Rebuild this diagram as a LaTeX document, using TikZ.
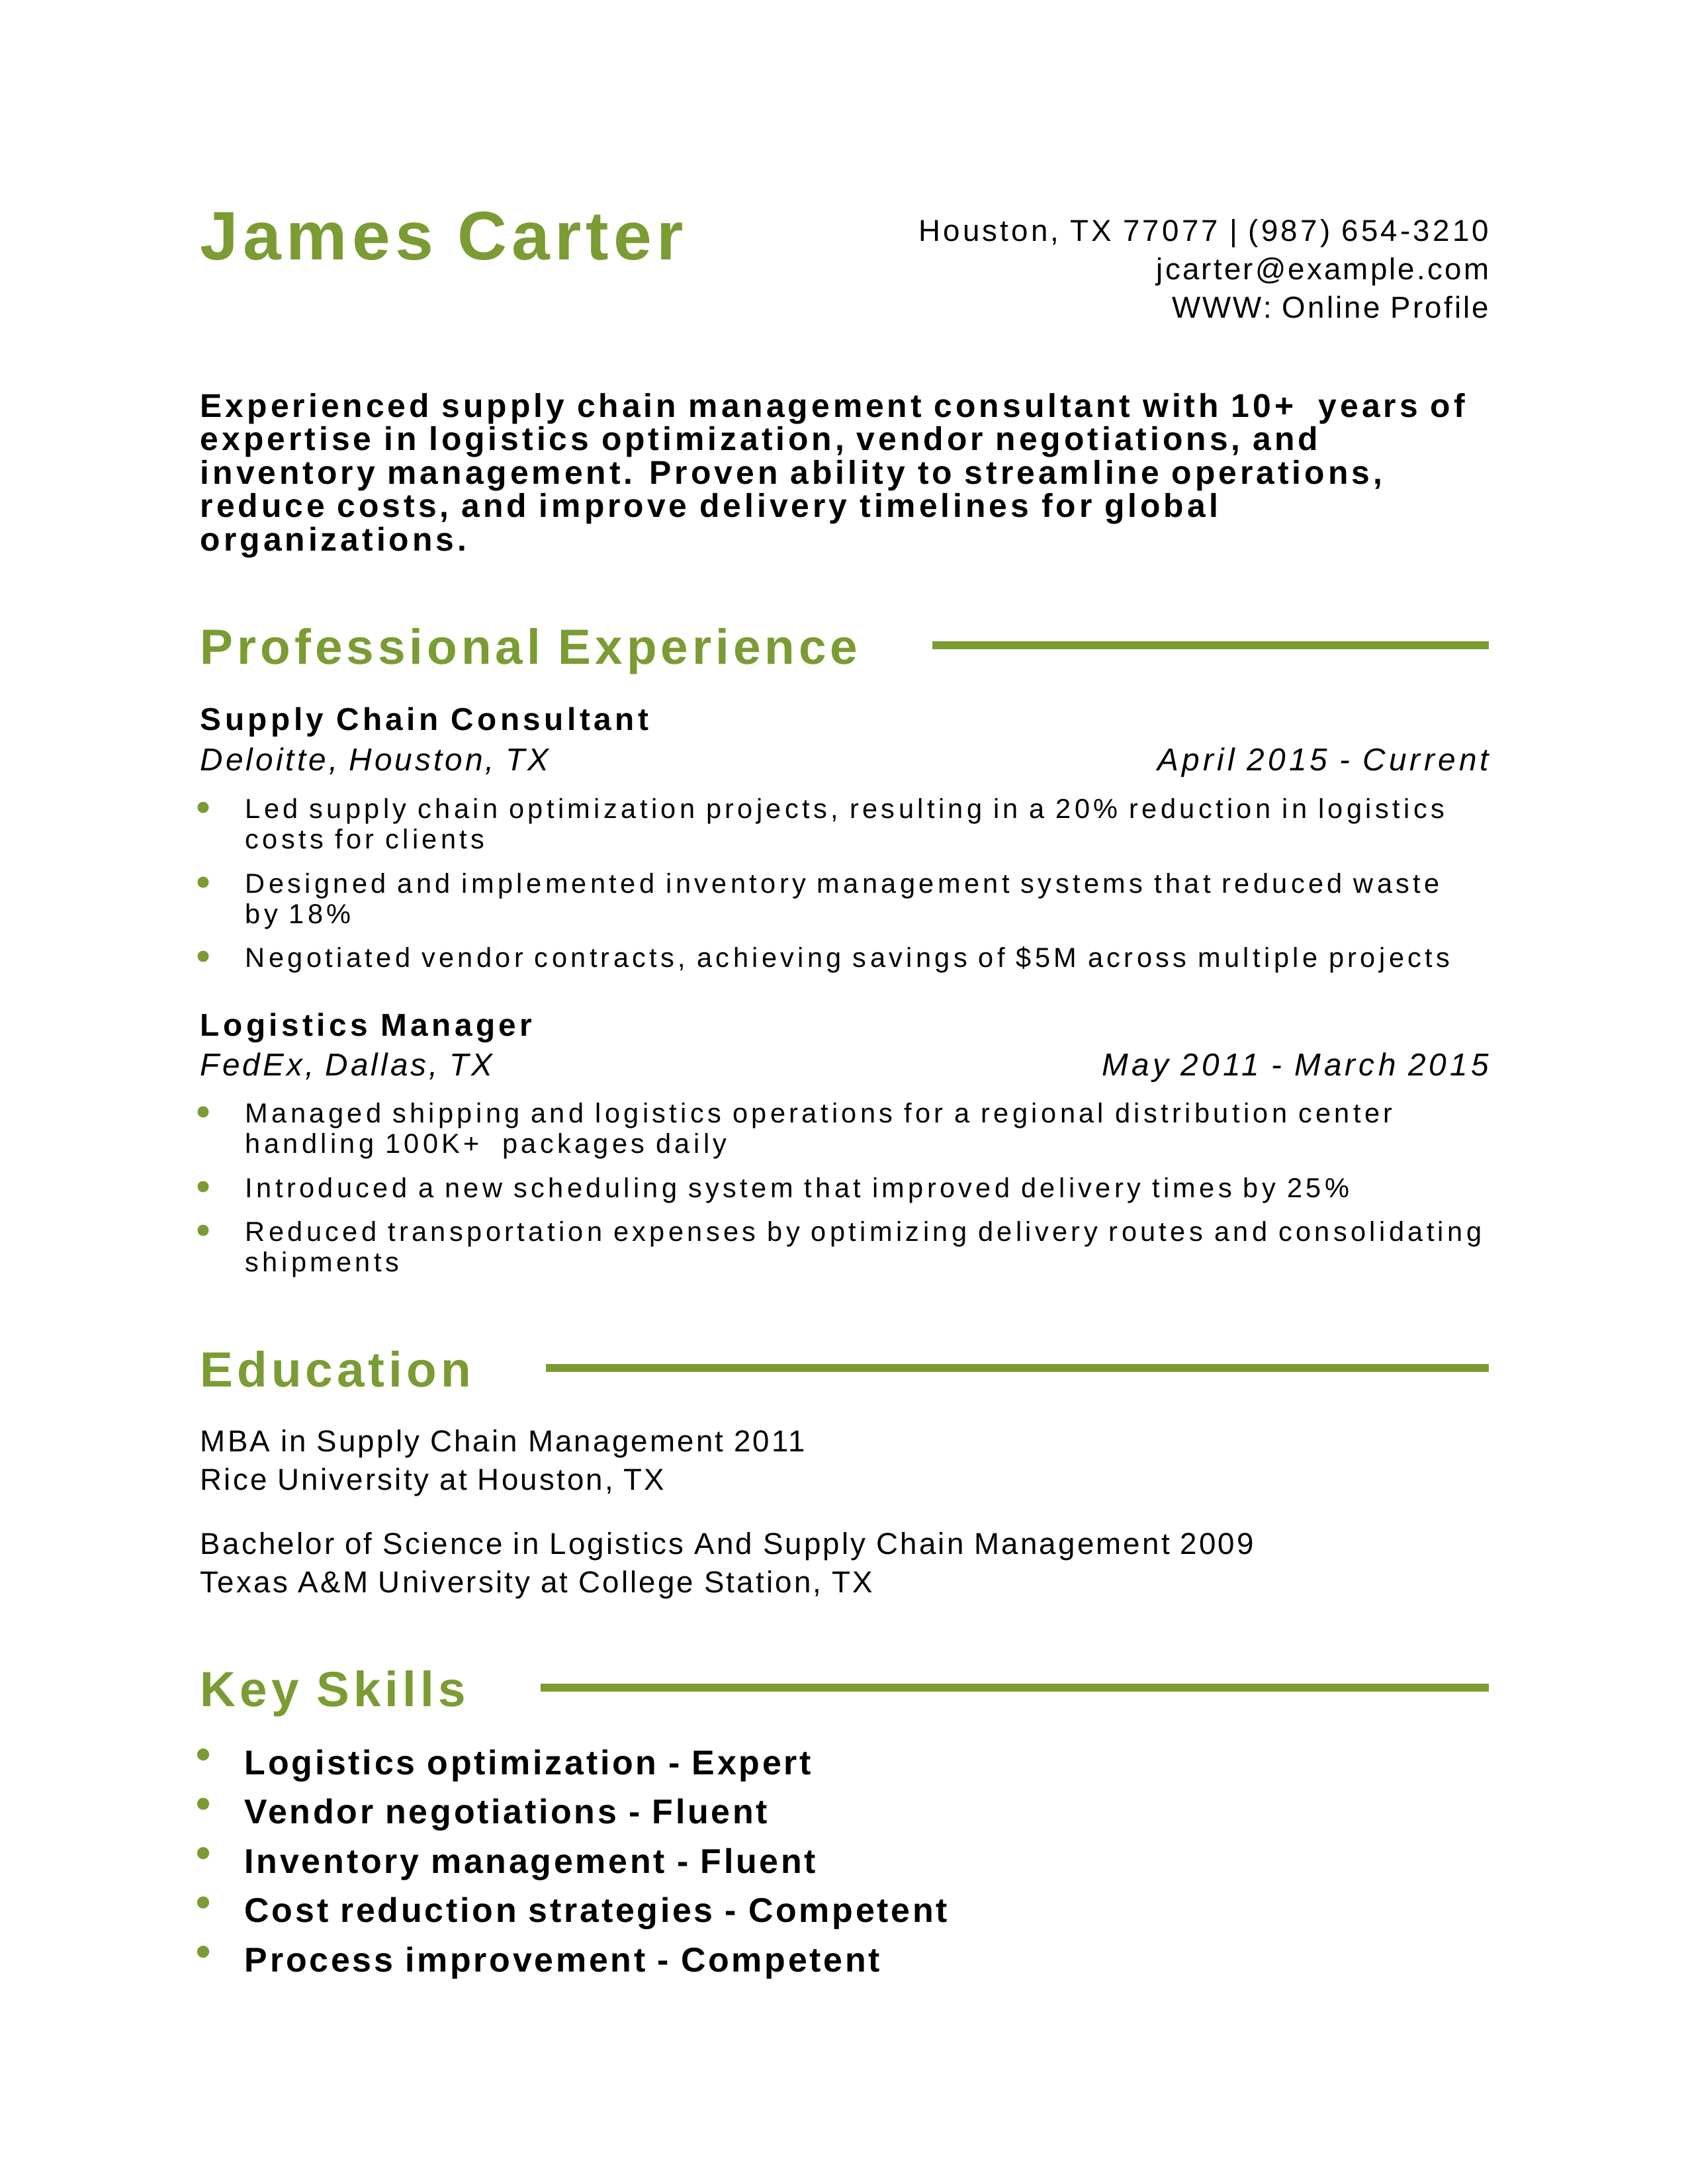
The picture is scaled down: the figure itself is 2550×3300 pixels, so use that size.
\documentclass[tikz,border=0pt]{standalone}
\usepackage{fontspec}
\setmainfont{Liberation Sans}
\newfontfamily\namefont[LetterSpace=7]{Liberation Sans}
\newfontfamily\headfont[LetterSpace=8]{Liberation Sans}
\newfontfamily\contactfont[LetterSpace=7]{Liberation Sans}
\newfontfamily\phonefont[LetterSpace=9.3]{Liberation Sans}
\newfontfamily\sumfont[LetterSpace=10]{Liberation Sans}
\newfontfamily\jobfont[LetterSpace=11.5]{Liberation Sans}
\newfontfamily\employerfont[LetterSpace=8.5]{Liberation Sans}
\newfontfamily\datefont[LetterSpace=11]{Liberation Sans}
\newfontfamily\bodyfont[LetterSpace=13]{Liberation Sans}
\newfontfamily\skillfont[LetterSpace=7.2]{Liberation Sans}
\usetikzlibrary{positioning}
\definecolor{leaf}{RGB}{122,156,51}

\begin{document}
\begin{tikzpicture}[x=0.24088pt, y=-0.24088pt,
            txt/.style={inner sep=0pt, anchor=base west},
            rtxt/.style={inner sep=0pt, anchor=base east},
            fullname/.style={txt, text=leaf, font=\namefont\bfseries\fontsize{25}{29}\selectfont},
            contact/.style={rtxt, font=\contactfont\fontsize{11}{13}\selectfont},
            summary/.style={txt, font=\sumfont\bfseries\fontsize{12}{14}\selectfont},
            sechead/.style={txt, text=leaf, font=\headfont\bfseries\fontsize{18}{22}\selectfont},
            jobtitle/.style={txt, font=\jobfont\bfseries\fontsize{11.5}{13}\selectfont},
            employer/.style={txt, font=\employerfont\itshape\fontsize{11.5}{13}\selectfont},
            dates/.style={rtxt, font=\datefont\itshape\fontsize{11.5}{13}\selectfont},
            body/.style={txt, font=\bodyfont\fontsize{10}{12}\selectfont},
            degree/.style={txt, font=\contactfont\fontsize{11}{13}\selectfont},
            skill/.style={txt, font=\skillfont\bfseries\fontsize{12.5}{15}\selectfont},
            bulletdot/.style={circle, fill=leaf, inner sep=0pt, minimum size=4.1pt},
            skilldot/.style={bulletdot, minimum size=4.4pt},
            rulebar/.style={draw=leaf, line width=2.9pt}]
            \useasboundingbox (0,0) rectangle (2550,3300);
            \coordinate (rm) at (2250,0);

            % header
            \node[fullname] (name) at (302,392) {James Carter};
            \node[contact, font=\phonefont\fontsize{11}{13}\selectfont] (addr) at (2251,364) {Houston, TX 77077 | (987) 654-3210};
            \node[contact] (mail) at (2251,422) {jcarter@example.com};
            \node[contact] (web) at (2251,480) {WWW: Online Profile};

            \foreach \line [count=\i] in {
              {Experienced supply chain management consultant with 10+~ years of},
              {expertise in logistics optimization, vendor negotiations, and},
              {inventory management. Proven ability to streamline operations,},
              {reduce costs, and improve delivery timelines for global},
              {organizations.}}
              \node[summary] (sum\i) at (302,{630+50.5*(\i-1)}) {\line};

            % experience
            \node[sechead] (exp) at (302,1003) {Professional Experience};
            \draw[rulebar] ([xshift=27pt,yshift=6.7pt]exp.base east) coordinate (expr) -- (expr -| rm);

            \node[jobtitle] (job1) at (302,1103) {Supply Chain Consultant};
            \node[employer] (firm1) at (302,1164) {Deloitte, Houston, TX};
            \node[dates] (when1) at (2251,1164) {April 2015 - Current};
            \node[bulletdot] (d11) at (307,1220) {};
            \node[body] (b11) at (370,1236) {Led supply chain optimization projects, resulting in a 20\% reduction in logistics};
            \node[body] (b11x) at (370,1282) {costs for clients};
            \node[bulletdot] (d12) at (307,1333) {};
            \node[body] (b12) at (370,1349) {Designed and implemented inventory management systems that reduced waste};
            \node[body] (b12x) at (370,1395) {by 18\%};
            \node[bulletdot] (d13) at (307,1445) {};
            \node[body] (b13) at (370,1461) {Negotiated vendor contracts, achieving savings of \$5M across multiple projects};

            \node[jobtitle] (job2) at (302,1565) {Logistics Manager};
            \node[employer] (firm2) at (302,1625) {FedEx, Dallas, TX};
            \node[dates] (when2) at (2251,1625) {May 2011 - March 2015};
            \node[bulletdot] (d21) at (307,1680) {};
            \node[body] (b21) at (370,1696) {Managed shipping and logistics operations for a regional distribution center};
            \node[body] (b21x) at (370,1742) {handling 100K+~ packages daily};
            \node[bulletdot] (d22) at (307,1793) {};
            \node[body] (b22) at (370,1809) {Introduced a new scheduling system that improved delivery times by 25\%};
            \node[bulletdot] (d23) at (307,1859) {};
            \node[body] (b23) at (370,1875) {Reduced transportation expenses by optimizing delivery routes and consolidating};
            \node[body] (b23x) at (370,1921) {shipments};

            % education
            \node[sechead] (edu) at (302,2095) {Education};
            \draw[rulebar] ([xshift=27pt,yshift=6.7pt]edu.base east) coordinate (edur) -- (edur -| rm);
            \node[degree] (mba) at (302,2193) {MBA in Supply Chain Management 2011};
            \node[degree] (rice) at (302,2251) {Rice University at Houston, TX};
            \node[degree] (bsc) at (302,2348) {Bachelor of Science in Logistics And Supply Chain Management 2009};
            \node[degree] (tamu) at (302,2406) {Texas A\&M University at College Station, TX};

            % skills
            \node[sechead] (skills) at (302,2578) {Key Skills};
            \draw[rulebar] ([xshift=27pt,yshift=6.7pt]skills.base east) coordinate (skr) -- (skr -| rm);
            \foreach \skill [count=\i] in {Logistics optimization - Expert, Vendor negotiations - Fluent,
              Inventory management - Fluent, Cost reduction strategies - Competent, Process improvement - Competent} {
              \node[skilldot] (sdot\i) at (307,{2651+74.5*(\i-1)}) {};
              \node[skill] (skill\i) at (369,{2681+74.5*(\i-1)}) {\skill};
            }
\end{tikzpicture}
\end{document}
